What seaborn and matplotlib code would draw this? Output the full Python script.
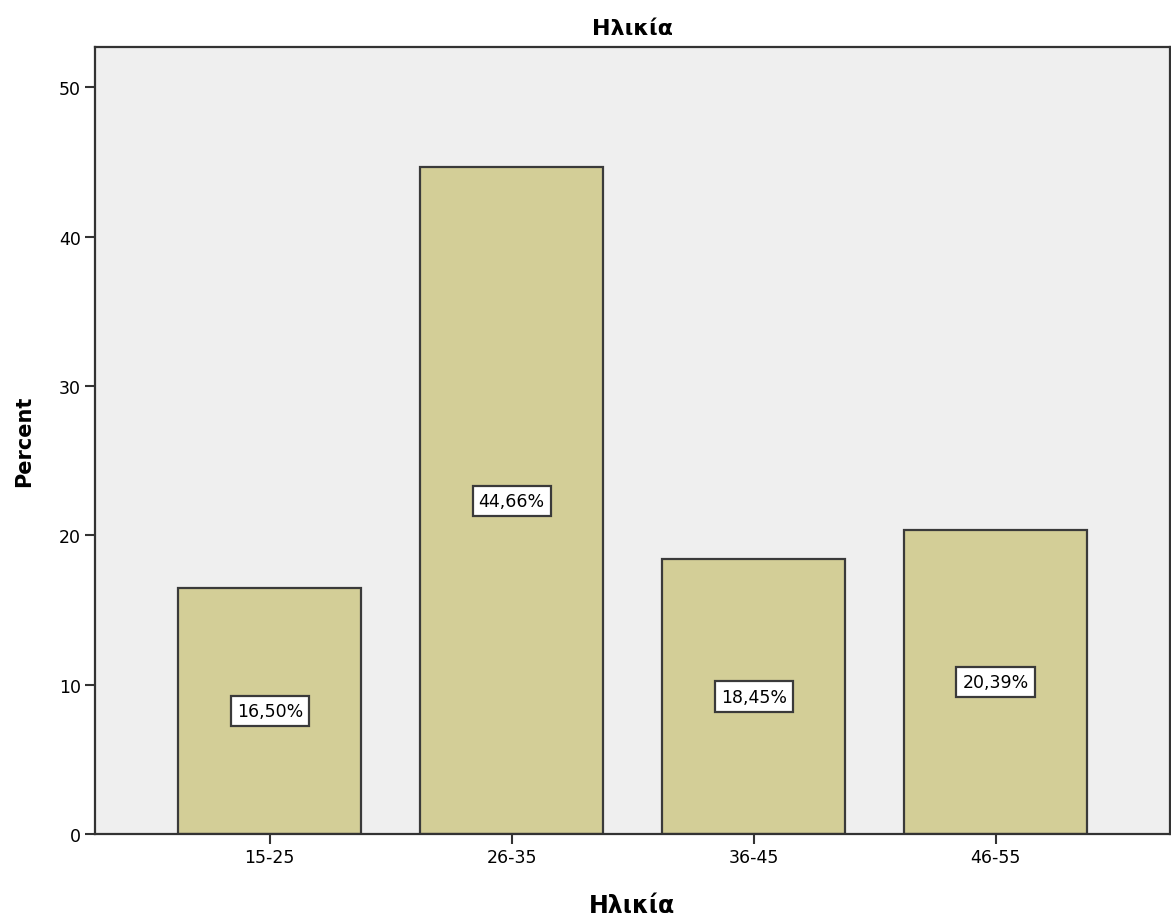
import pandas as pd
import seaborn as sns
import numpy as np
import matplotlib.pyplot as plt

# data
age_groups = ['15-25', '26-35', '36-45', '46-55']
percents = [16.50, 44.66, 18.45, 20.39]

df = pd.DataFrame({'Ηλικία': age_groups, 'Percent': percents})

sns.set_theme(style="white")
plt.rcParams['font.family'] = ['DejaVu Sans']
plt.rcParams['text.color'] = 'black'
plt.rcParams['axes.labelcolor'] = 'black'
plt.rcParams['xtick.color'] = 'black'
plt.rcParams['ytick.color'] = 'black'

fig, ax = plt.subplots(figsize=(11.71, 9.2), dpi=100)
fig.subplots_adjust(left=0.081, right=0.999, top=0.948, bottom=0.092)

sns.barplot(data=df, x='Ηλικία', y='Percent', color='#D3CE97', saturation=1,
            width=0.755, edgecolor='#3a3a3a', linewidth=1.6, ax=ax)

ax.set_facecolor('#EFEFEF')
for s in ax.spines.values():
    s.set_visible(True)
    s.set_color('#333333')
    s.set_linewidth(1.6)

ax.set_ylim(0, 52.7)
ax.set_xlim(-0.723, 3.72)
ax.set_yticks(np.arange(0, 51, 10))
ax.tick_params(axis='both', direction='out', length=7, width=1.5, color='#333333',
               labelsize=12.5, labelcolor='black', left=True, bottom=True, pad=3)

# value labels in the middle of each bar
for i, v in enumerate(percents):
    ax.text(i, v / 2, f'{v:.2f}%'.replace('.', ','), ha='center', va='center', fontsize=12.5,
            color='black',
            bbox=dict(boxstyle='square,pad=0.35', fc='white', ec='#3a3a3a', lw=1.6))

ax.set_title('Ηλικία', fontsize=16, fontweight='bold', pad=9, color='black')
ax.set_xlabel('Ηλικία', fontsize=17, fontweight='bold', labelpad=19)
ax.set_ylabel('Percent', fontsize=15, fontweight='bold', labelpad=18)

plt.savefig('out.png', dpi=100)
